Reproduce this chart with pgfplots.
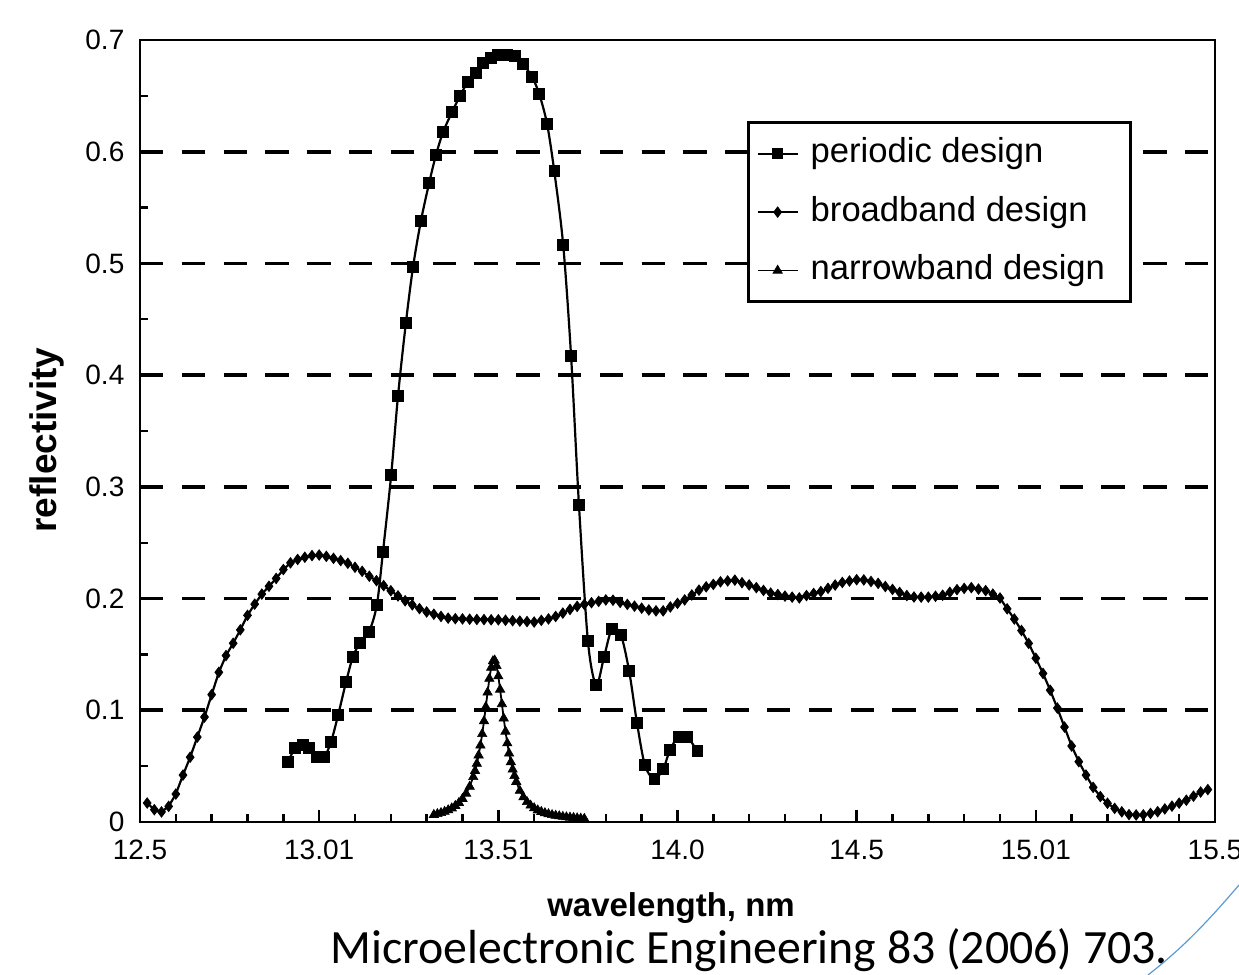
\documentclass[border=0pt]{standalone}
\usepackage{fontspec}
\setmainfont{Liberation Sans}
\newfontfamily\calibri{Carlito}
\usepackage{pgfplots}
\pgfplotsset{compat=1.18}
\begin{document}
\begin{tikzpicture}
\useasboundingbox (-70pt,-76.5pt) rectangle (549.5pt,411pt);
\begin{axis}[
  at={(0pt,0pt)}, anchor=south west,
  width=537.5pt, height=391pt, scale only axis,
  xmin=12.5, xmax=15.5, ymin=0, ymax=0.7,
  axis line style={line width=1.3pt},
  tick pos=left, tick align=inside,
  xtick={12.5,13,13.5,14,14.5,15,15.5},
  xticklabels={12.5,13.01,13.51,14.0,14.5,15.01,15.5},
  minor x tick num=4,
  ytick={0,0.1,0.2,0.3,0.4,0.5,0.6,0.7},
  yticklabels={0,0.1,0.2,0.3,0.4,0.5,0.6,0.7},
  minor y tick num=1,
  extra y ticks={0.1,0.2,0.3,0.4,0.5,0.6},
  extra y tick labels={},
  extra y tick style={ymajorgrids=true, major tick length=0pt},
  major tick length=6pt, minor tick length=4pt,
  every tick/.style={black, line width=1.2pt},
  major grid style={black, line width=1.9pt, dash pattern=on 11.7pt off 9.2pt},
  tick label style={font=\fontsize{14}{16}\selectfont},
  xticklabel style={text height=10pt, text depth=0pt, yshift=-5.3pt},
  yticklabel style={xshift=-4.3pt},
  xlabel={wavelength, nm}, ylabel={reflectivity},
  xlabel style={font=\fontsize{16.5}{19}\selectfont\bfseries, at={(axis description cs:0.494,-0.11)}, anchor=center},
  ylabel style={font=\fontsize{18.5}{21}\selectfont\bfseries, at={(axis description cs:-0.0865,0.4885)}, anchor=center},
  legend image code/.code={\draw[mark repeat=2,mark phase=2,#1] plot coordinates {(0pt,0pt) (10pt,0pt) (20pt,0pt)};},
  legend style={at={(axis description cs:0.5647,0.8964)}, anchor=north west,
    draw=black, line width=1.5pt, fill=white, inner xsep=4pt, inner ysep=1pt,
    font=\fontsize{17.3}{20}\selectfont,
    nodes={inner xsep=3pt, inner ysep=6.6pt, text height=12.5pt, text depth=3.5pt},
    /tikz/every odd column/.append style={column sep=3pt},
    row sep=0pt},
  legend cell align=left,
]
% periodic design
\addplot[black, line width=1.1pt, smooth, mark=square*, mark size=2.6pt, mark options={solid, fill=black, line width=0.5pt}] coordinates {
(12.913,0.0537)(12.933,0.0662)(12.955,0.0689)(12.972,0.0662)(12.994,0.0582)(13.014,0.0582)(13.033,0.0716)(13.053,0.0958)(13.075,0.1253)(13.094,0.1477)(13.114,0.1602)(13.139,0.1701)(13.161,0.1943)(13.178,0.2417)(13.201,0.3107)(13.220,0.3814)(13.242,0.4467)(13.262,0.4969)(13.284,0.5381)(13.307,0.5721)(13.326,0.5971)(13.346,0.6177)(13.371,0.6356)(13.393,0.650)(13.415,0.6625)(13.438,0.6705)(13.457,0.6795)(13.480,0.684)(13.499,0.6867)(13.524,0.6867)(13.547,0.6858)(13.569,0.6786)(13.594,0.667)(13.614,0.6518)(13.636,0.6249)(13.656,0.5828)(13.681,0.5166)(13.703,0.4172)(13.725,0.2838)(13.750,0.162)(13.773,0.1227)(13.795,0.1477)(13.817,0.1728)(13.842,0.1674)(13.865,0.1352)(13.887,0.0886)(13.909,0.051)(13.935,0.0385)(13.960,0.0474)(13.979,0.0645)(14.002,0.0761)(14.027,0.0761)(14.055,0.0636)
};
\addlegendentry{periodic design}
% broadband design
\addplot[black, line width=1.1pt, mark=diamond*, mark size=2.6pt, mark options={solid, fill=black, line width=0.4pt}] coordinates {
(12.52,0.017)(12.54,0.011)(12.56,0.009)(12.58,0.014)(12.60,0.025)(12.62,0.042)(12.64,0.058)(12.66,0.076)(12.68,0.094)(12.70,0.114)
(12.72,0.134)(12.74,0.149)(12.76,0.160)(12.78,0.172)(12.80,0.185)(12.82,0.195)(12.84,0.204)(12.86,0.211)(12.88,0.218)(12.90,0.226)
(12.92,0.232)(12.94,0.235)(12.96,0.237)(12.98,0.2385)(13.00,0.239)(13.02,0.2378)(13.04,0.236)(13.06,0.234)(13.08,0.2316)(13.10,0.228)
(13.12,0.2244)(13.14,0.220)(13.16,0.216)(13.18,0.2116)(13.20,0.207)(13.22,0.2024)(13.24,0.198)(13.26,0.1944)(13.28,0.191)(13.30,0.188)
(13.32,0.186)(13.34,0.184)(13.36,0.1825)(13.38,0.182)(13.40,0.1818)(13.42,0.1815)(13.44,0.1813)(13.46,0.1812)(13.48,0.181)(13.50,0.181)
(13.52,0.1806)(13.54,0.1802)(13.56,0.1798)(13.58,0.1794)(13.60,0.179)(13.62,0.1805)(13.64,0.1818)(13.66,0.184)(13.68,0.187)(13.70,0.1903)
(13.72,0.193)(13.74,0.1948)(13.76,0.1963)(13.78,0.1975)(13.80,0.1988)(13.82,0.1985)(13.84,0.1966)(13.86,0.1948)(13.88,0.1932)(13.90,0.1914)
(13.92,0.1898)(13.94,0.189)(13.96,0.189)(13.98,0.1925)(14.00,0.1957)(14.02,0.1988)(14.04,0.2032)(14.06,0.2075)(14.08,0.2105)(14.10,0.2127)
(14.12,0.215)(14.14,0.2158)(14.16,0.2165)(14.18,0.2142)(14.20,0.2122)(14.22,0.2098)(14.24,0.2073)(14.26,0.2049)(14.28,0.2036)(14.30,0.2022)
(14.32,0.2013)(14.34,0.2006)(14.36,0.2027)(14.38,0.2046)(14.40,0.2063)(14.42,0.2092)(14.44,0.2121)(14.46,0.2144)(14.48,0.2157)(14.50,0.2169)
(14.52,0.2167)(14.54,0.2153)(14.56,0.2136)(14.58,0.2108)(14.60,0.2082)(14.62,0.2055)(14.64,0.2027)(14.66,0.2014)(14.68,0.2013)(14.70,0.2013)
(14.72,0.2021)(14.74,0.2030)(14.76,0.2056)(14.78,0.2080)(14.80,0.2091)(14.82,0.2098)(14.84,0.2085)(14.86,0.2071)(14.88,0.2040)(14.90,0.2005)
(14.92,0.1908)(14.94,0.1817)(14.96,0.1714)(14.98,0.1599)(15.00,0.1466)(15.02,0.133)(15.04,0.118)(15.06,0.102)(15.08,0.085)(15.10,0.068)
(15.12,0.054)(15.14,0.042)(15.16,0.031)(15.18,0.0228)(15.20,0.0168)(15.22,0.0122)(15.24,0.0091)(15.26,0.0066)(15.28,0.0063)(15.30,0.0064)
(15.32,0.0077)(15.34,0.0092)(15.36,0.0117)(15.38,0.0142)(15.40,0.0169)(15.42,0.0195)(15.44,0.0231)(15.46,0.0268)(15.48,0.029)
};
\addlegendentry{broadband design}
% narrowband design
\addplot[black, line width=0.9pt, mark=triangle*, mark size=2.7pt, mark options={solid, fill=black, line width=0.3pt}] coordinates {
(13.32,0.0064)(13.33,0.0072)(13.34,0.0081)(13.35,0.0092)(13.36,0.0106)(13.37,0.0123)(13.38,0.0145)(13.39,0.0172)(13.40,0.0208)(13.41,0.0255)
(13.42,0.0317)(13.43,0.0403)(13.435,0.0458)(13.44,0.0522)(13.445,0.0597)(13.45,0.0686)(13.455,0.0788)(13.46,0.0903)(13.465,0.1030)(13.47,0.116)
(13.475,0.1283)(13.48,0.1382)(13.485,0.144)(13.49,0.1446)(13.495,0.1397)(13.50,0.1305)(13.505,0.1186)(13.51,0.1056)(13.515,0.0928)(13.52,0.0810)
(13.525,0.0705)(13.53,0.0614)(13.535,0.0536)(13.54,0.0470)(13.545,0.0413)(13.55,0.0360)(13.56,0.028)(13.57,0.0222)(13.58,0.018)(13.59,0.0148)
(13.60,0.0124)(13.61,0.0105)(13.62,0.0091)(13.63,0.0080)(13.64,0.0071)(13.65,0.0063)(13.66,0.0057)(13.67,0.0052)(13.68,0.0047)(13.69,0.0043)
(13.70,0.0040)(13.71,0.0037)(13.72,0.0034)(13.73,0.0031)(13.74,0.0029)
};
\addlegendentry{narrowband design\hspace*{5.5pt}}
\end{axis}
\node[anchor=base west, font=\calibri\fontsize{23.9}{28}\selectfont, inner sep=0pt] at (95pt,-71pt) {Microelectronic Engineering 83 (2006) 703.};
\draw[color={rgb,255:red,91;green,155;blue,213}, line width=0.6pt] (549.5pt,-31.5pt) .. controls (532pt,-52pt) and (520pt,-64pt) .. (504pt,-76.5pt);
\end{tikzpicture}
\end{document}
